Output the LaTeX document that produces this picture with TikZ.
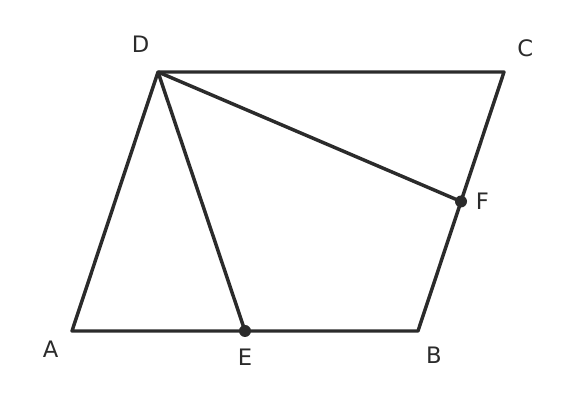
\documentclass[tikz,border=0pt]{standalone}
\usepackage{fontspec}
\setmainfont{DejaVu Sans}
\usetikzlibrary{positioning, calc}
\definecolor{ink}{HTML}{2B2B2B}
\tikzstyle{edge} = [ink, line width=2.6pt, line join=round]
\tikzstyle{dot} = [circle, fill=ink, inner sep=0pt, minimum size=9pt]
\tikzstyle{lbl} = [text=ink, inner sep=0pt, font=\fontsize{17}{20}\selectfont]

\begin{document}
\begin{tikzpicture}[x=0.75pt, y=0.75pt, node distance=1cm]

            \useasboundingbox (0,0) rectangle (576,403);

            \coordinate (A) at (72,72);
            \coordinate (B) at (418,72);
            \coordinate (C) at (504,331);
            \coordinate (D) at (158,331);
            \coordinate (E) at ($(A)!0.5!(B)$);
            \coordinate (F) at ($(B)!0.5!(C)$);

            \draw [edge] (A) -- (B) -- (C) -- (D) -- cycle;
            \draw [edge] (D) -- (E);
            \draw [edge] (D) -- (F);

            \node (dotE) [dot] at (E) {};
            \node (dotF) [dot] at (F) {};

            \node (lblA) [lbl, below left=14pt and 16pt of A, anchor=center] {A};
            \node (lblB) [lbl, below right=18pt and 12pt of B, anchor=center] {B};
            \node (lblC) [lbl, above right=18pt and 16pt of C, anchor=center] {C};
            \node (lblD) [lbl, above left=21pt and 13pt of D, anchor=center] {D};
            \node (lblE) [lbl, below=20pt of E, anchor=center] {E};
            \node (lblF) [lbl, right=16pt of F, anchor=center] {F};

        \end{tikzpicture}
\end{document}
